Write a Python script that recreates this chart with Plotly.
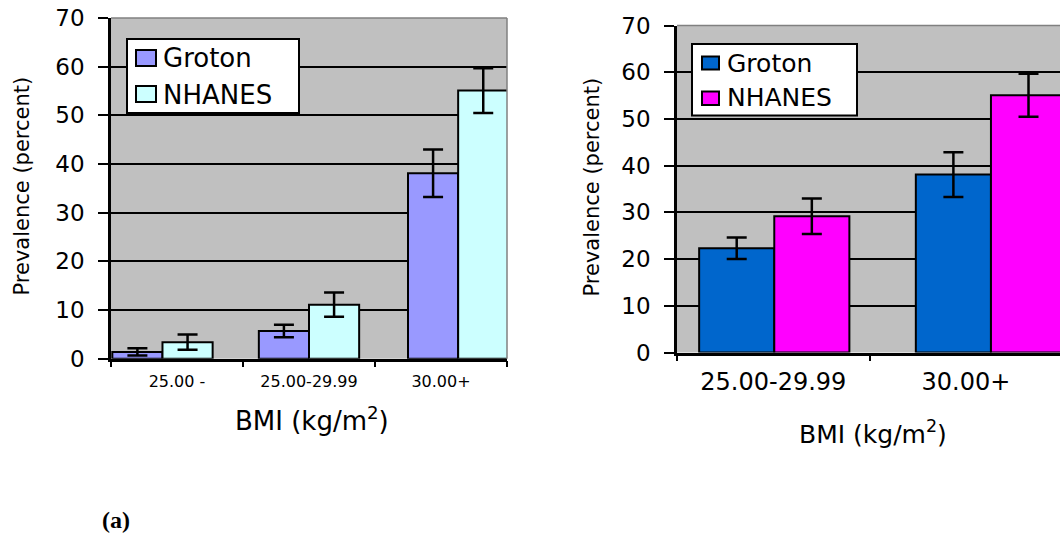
import plotly.graph_objects as go

# ---- data ----
series_names = ["Groton", "NHANES"]

cats_left = ["25.00 -", "25.00-29.99", "30.00+"]
groton_left = [1.4, 5.7, 38.1]
groton_left_err = [0.75, 1.3, 4.9]
nhanes_left = [3.4, 11.1, 55.1]
nhanes_left_err = [1.55, 2.5, 4.6]

cats_right = ["25.00-29.99", "30.00+"]
groton_right = [22.3, 38.1]
groton_right_err = [2.3, 4.8]
nhanes_right = [29.2, 55.1]
nhanes_right_err = [3.8, 4.6]

y_ticks = [0, 10, 20, 30, 40, 50, 60, 70]

# ---- styles ----
W, H = 1060, 533
FONT = "DejaVu Sans"
BAR_W = 0.38
off_g_left = [-0.49, -0.38, -0.25]
off_n_left = [-0.11, 0.0, 0.13]
off_g_right = [-0.385, -0.26]
off_n_right = [0.005, 0.13]
BAR_W_R = 0.39
colors_left = ["#9999FF", "#CCFFFF"]
colors_right = ["#0066CC", "#FF00FF"]


def px_x(p):
    return p / W


def px_y(p):
    return 1 - p / H


err_style = dict(type="data", visible=True, color="black", thickness=2.5, width=10)

fig = go.Figure()

fig.add_trace(go.Bar(
    x=cats_left, y=groton_left, name=series_names[0], xaxis="x", yaxis="y",
    width=BAR_W, offset=off_g_left,
    marker=dict(color=colors_left[0], line=dict(color="black", width=2)),
    error_y=dict(array=groton_left_err, **err_style)))
fig.add_trace(go.Bar(
    x=cats_left, y=nhanes_left, name=series_names[1], xaxis="x", yaxis="y",
    width=BAR_W, offset=off_n_left,
    marker=dict(color=colors_left[1], line=dict(color="black", width=2)),
    error_y=dict(array=nhanes_left_err, **err_style)))

fig.add_trace(go.Bar(
    x=cats_right, y=groton_right, name=series_names[0], xaxis="x2", yaxis="y2",
    width=BAR_W_R, offset=off_g_right,
    marker=dict(color=colors_right[0], line=dict(color="black", width=2)),
    error_y=dict(array=groton_right_err, **err_style)))
fig.add_trace(go.Bar(
    x=cats_right, y=nhanes_right, name=series_names[1], xaxis="x2", yaxis="y2",
    width=BAR_W_R, offset=off_n_right,
    marker=dict(color=colors_right[1], line=dict(color="black", width=2)),
    error_y=dict(array=nhanes_right_err, **err_style)))

xcommon = dict(type="category", showline=True, linecolor="black", linewidth=2.5,
               ticks="outside", ticklen=6, tickwidth=2, tickcolor="black",
               tickson="boundaries", showgrid=False, zeroline=False,
               ticklabelstandoff=6, automargin=False)
ycommon = dict(range=[0, 70], tickvals=y_ticks, showline=True, linecolor="black",
               linewidth=2.5, ticks="outside", ticklen=10, tickwidth=2,
               tickcolor="black", showgrid=True, gridcolor="black", gridwidth=1.5,
               zeroline=False, tickfont=dict(family=FONT, size=23, color="black"),
               ticklabelstandoff=9, automargin=False)

fig.update_layout(
    width=W, height=H, margin=dict(l=0, r=0, t=0, b=0, autoexpand=False),
    paper_bgcolor="white", plot_bgcolor="#C0C0C0", barmode="overlay",
    showlegend=False,
    xaxis=dict(domain=[px_x(111), px_x(507)], range=[-0.5, 2.5], anchor="y",
               tickfont=dict(family=FONT, size=16, color="black"), **xcommon),
    yaxis=dict(domain=[px_y(358.7), px_y(18)], anchor="x", **ycommon),
    xaxis2=dict(domain=[px_x(677), 1.0], range=[-0.5, 1.4885], anchor="y2",
                tickfont=dict(family=FONT, size=24, color="black"), **xcommon),
    yaxis2=dict(domain=[px_y(352.5), px_y(25.6)], anchor="x2", **ycommon),
)

# plot-area borders (thin grey) on top / right
fig.add_shape(type="line", xref="x domain", yref="y domain", x0=0, x1=1, y0=1, y1=1,
              line=dict(color="#808080", width=1.5), layer="above")
fig.add_shape(type="line", xref="x domain", yref="y domain", x0=1, x1=1, y0=0, y1=1,
              line=dict(color="#808080", width=1.5), layer="above")
fig.add_shape(type="line", xref="x2 domain", yref="y2 domain", x0=0, x1=1, y0=1, y1=1,
              line=dict(color="#808080", width=1.5), layer="above")


# ---- legends (boxed, Excel-style) ----
def add_legend(box, squares, text_x, text_ys, colors, size):
    x0, x1, y0, y1 = box
    fig.add_shape(type="rect", xref="paper", yref="paper",
                  x0=px_x(x0), x1=px_x(x1), y0=px_y(y1), y1=px_y(y0),
                  fillcolor="white", line=dict(color="black", width=2), layer="above")
    for (sx0, sx1, sy0, sy1), col in zip(squares, colors):
        fig.add_shape(type="rect", xref="paper", yref="paper",
                      x0=px_x(sx0), x1=px_x(sx1), y0=px_y(sy1), y1=px_y(sy0),
                      fillcolor=col, line=dict(color="black", width=2), layer="above")
    for name, ty in zip(series_names, text_ys):
        fig.add_annotation(text=name, x=px_x(text_x), y=px_y(ty), xref="paper", yref="paper",
                           xanchor="left", yanchor="middle", showarrow=False,
                           font=dict(family=FONT, size=size, color="black"))


add_legend((127, 299, 39, 113), [(136, 156, 50, 66), (136, 156, 86, 102)],
           161, [58.5, 94.5], colors_left, 26)
add_legend((692, 857, 44, 115.5), [(702, 719, 56.5, 69.5), (702, 719, 91.5, 105)],
           725, [63, 98], colors_right, 25)

annots = [
    dict(text="BMI (kg/m<sup>2</sup>)", x=px_x(312), y=px_y(419), size=26),
    dict(text="BMI (kg/m<sup>2</sup>)", x=px_x(873), y=px_y(432), size=25),
    dict(text="Prevalence (percent)", x=px_x(21), y=px_y(186.5), size=21, angle=-90),
    dict(text="Prevalence (percent)", x=px_x(591.5), y=px_y(187), size=21, angle=-90),
]
for a in annots:
    fig.add_annotation(text=a["text"], x=a["x"], y=a["y"], xref="paper", yref="paper",
                       xanchor="center", yanchor="middle", showarrow=False,
                       textangle=a.get("angle", 0),
                       font=dict(family=FONT, size=a["size"], color="black"))

fig.add_annotation(text="<b>(a)</b>", x=px_x(116), y=px_y(520), xref="paper", yref="paper",
                   xanchor="center", yanchor="middle", showarrow=False,
                   font=dict(family="Liberation Serif", size=24, color="black"))

fig.write_html("out.html", config={"displayModeBar": False},
               post_script="document.body.style.margin='0';document.body.style.padding='0';")
